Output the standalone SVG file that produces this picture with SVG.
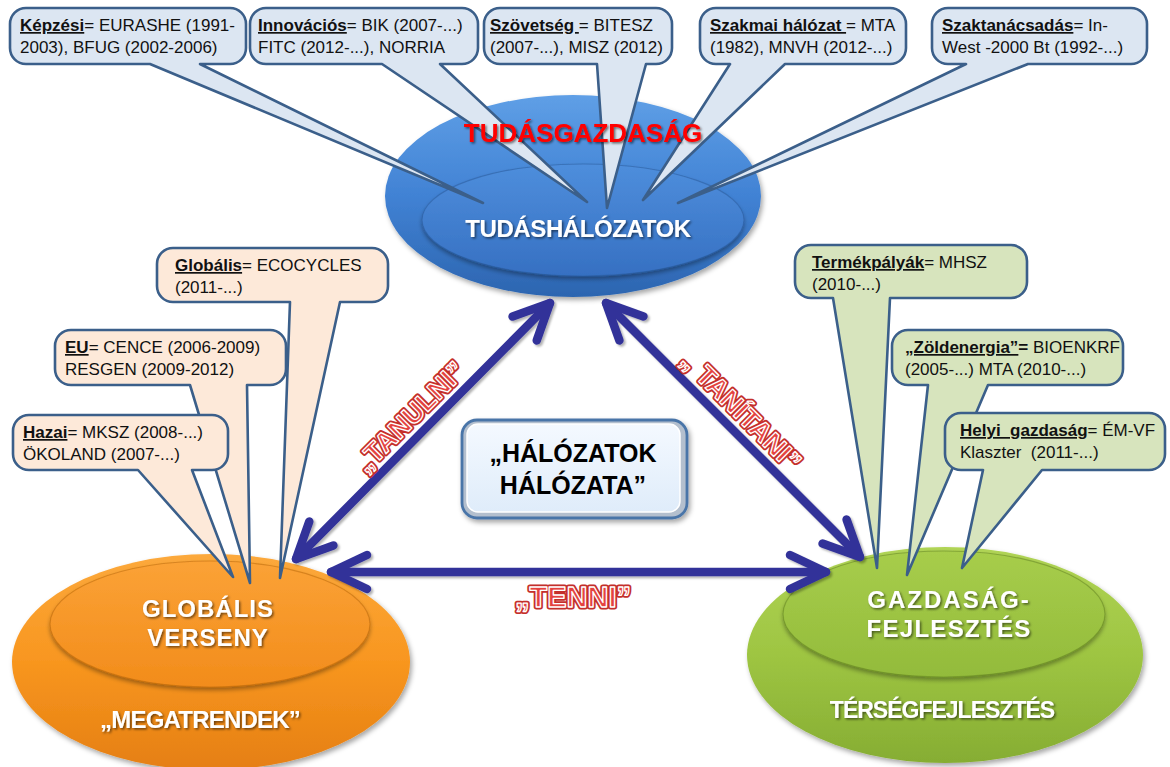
<svg xmlns="http://www.w3.org/2000/svg" width="1170" height="767" viewBox="0 0 1170 767">
  <style>
    .note { font-family: "Liberation Sans", Arial, sans-serif; font-size: 17px; fill: #111; white-space: pre; }
    .key { font-weight: bold; text-decoration: underline; }
    .b { font-weight: bold; }
    .callout-top { fill: #dce6f2; stroke: #3b5f8a; stroke-width: 2.6; stroke-linejoin: round; }
    .callout-left { fill: #fde9d9; stroke: #3b5f8a; stroke-width: 2.6; stroke-linejoin: round; }
    .callout-right { fill: #d7e4bd; stroke: #3b5f8a; stroke-width: 2.6; stroke-linejoin: round; }
    .head { font-family: "Liberation Sans", Arial, sans-serif; font-weight: bold; fill: #ffffff; text-anchor: middle; }
    .edge { fill: none; stroke: #333399; stroke-width: 8.5; stroke-linecap: round; }
    .lbl-back { font-family: "Liberation Sans", Arial, sans-serif; font-weight: bold; text-anchor: middle; dominant-baseline: central; fill: #c42f2b; stroke: #c42f2b; stroke-width: 5; stroke-linejoin: round; }
    .lbl-front { font-family: "Liberation Sans", Arial, sans-serif; font-weight: bold; text-anchor: middle; dominant-baseline: central; fill: #e4423f; stroke: #ffffff; stroke-width: 1.3; stroke-linejoin: round; }
    .center-text { font-family: "Liberation Sans", Arial, sans-serif; font-weight: bold; font-size: 25px; fill: #000; text-anchor: middle; }
  </style>
  <defs>
    <linearGradient id="gBlue" x1="0" y1="0" x2="0" y2="1">
      <stop offset="0" stop-color="#5f9fe6"/>
      <stop offset="0.5" stop-color="#4182d4"/>
      <stop offset="1" stop-color="#2c65b0"/>
    </linearGradient>
    <linearGradient id="gBlueIn" x1="0" y1="0" x2="0" y2="1">
      <stop offset="0" stop-color="#4e8edc"/>
      <stop offset="1" stop-color="#3670c2"/>
    </linearGradient>
    <linearGradient id="gOrange" x1="0" y1="0" x2="0" y2="1">
      <stop offset="0" stop-color="#fca93c"/>
      <stop offset="0.5" stop-color="#f8961f"/>
      <stop offset="1" stop-color="#e57f12"/>
    </linearGradient>
    <linearGradient id="gOrangeIn" x1="0" y1="0" x2="0" y2="1">
      <stop offset="0" stop-color="#fba236"/>
      <stop offset="1" stop-color="#f28c1b"/>
    </linearGradient>
    <linearGradient id="gGreen" x1="0" y1="0" x2="0" y2="1">
      <stop offset="0" stop-color="#b0d455"/>
      <stop offset="0.5" stop-color="#9ec542"/>
      <stop offset="1" stop-color="#86ad33"/>
    </linearGradient>
    <linearGradient id="gGreenIn" x1="0" y1="0" x2="0" y2="1">
      <stop offset="0" stop-color="#a7cd4b"/>
      <stop offset="1" stop-color="#93bb3b"/>
    </linearGradient>
    <linearGradient id="gBox" x1="0" y1="0" x2="0" y2="1">
      <stop offset="0" stop-color="#f4f9ff"/>
      <stop offset="1" stop-color="#dfecfa"/>
    </linearGradient>
    <filter id="shadow" x="-10%" y="-10%" width="120%" height="130%">
      <feDropShadow dx="2" dy="3" stdDeviation="2.5" flood-color="#000" flood-opacity="0.35"/>
    </filter>
    <filter id="innerShadow" x="-10%" y="-10%" width="120%" height="130%">
      <feDropShadow dx="0" dy="3" stdDeviation="2" flood-color="#000" flood-opacity="0.35"/>
    </filter>
    <filter id="textShadow" x="-10%" y="-20%" width="120%" height="150%">
      <feDropShadow dx="1.5" dy="1.5" stdDeviation="1" flood-color="#000" flood-opacity="0.55"/>
    </filter>
    <filter id="arrowShadow" x="-10%" y="-10%" width="120%" height="120%">
      <feDropShadow dx="2" dy="2" stdDeviation="1" flood-color="#000" flood-opacity="0.3"/>
    </filter>
    <marker id="chev" markerUnits="userSpaceOnUse" viewBox="-50 -30 60 60" markerWidth="60" markerHeight="60" refX="0" refY="0" orient="auto-start-reverse" overflow="visible">
      <path d="M-36,-17 L0,0 L-36,17" fill="none" stroke="#333399" stroke-width="8.5" stroke-linecap="round" stroke-linejoin="round"/>
    </marker>
  </defs>

  <rect width="1170" height="767" fill="#ffffff"/>

  <!-- knowledge economy node -->
  <g id="node-tudas">
    <ellipse cx="573" cy="196" rx="188" ry="101" fill="url(#gBlue)" filter="url(#shadow)"/>
    <ellipse cx="583" cy="220" rx="161" ry="56" fill="url(#gBlueIn)" stroke="#2a5a9a" stroke-opacity="0.5" stroke-width="1.2" filter="url(#innerShadow)"/>
  </g>

  <!-- global trends node -->
  <g id="node-globalis">
    <ellipse cx="211" cy="662" rx="199" ry="108" fill="url(#gOrange)" filter="url(#shadow)"/>
    <ellipse cx="210" cy="624" rx="160" ry="63" fill="url(#gOrangeIn)" stroke="#b8650a" stroke-opacity="0.5" stroke-width="1.2" filter="url(#innerShadow)"/>
    <text class="head" x="208" y="617" font-size="24" letter-spacing="1" filter="url(#textShadow)">GLOBÁLIS</text>
    <text class="head" x="208" y="646" font-size="24" letter-spacing="1" filter="url(#textShadow)">VERSENY</text>
    <text class="head" x="200" y="728" font-size="24" letter-spacing="-0.8" filter="url(#textShadow)">„MEGATRENDEK”</text>
  </g>

  <!-- regional development node -->
  <g id="node-gazdasag">
    <ellipse cx="945" cy="655" rx="198" ry="108" fill="url(#gGreen)" filter="url(#shadow)"/>
    <ellipse cx="944" cy="614" rx="161" ry="63" fill="url(#gGreenIn)" stroke="#5f7f20" stroke-opacity="0.5" stroke-width="1.2" filter="url(#innerShadow)"/>
    <text class="head" x="949" y="608" font-size="24" letter-spacing="2" filter="url(#textShadow)">GAZDASÁG-</text>
    <text class="head" x="949" y="637" font-size="24" letter-spacing="1.3" filter="url(#textShadow)">FEJLESZTÉS</text>
    <text class="head" x="942" y="718" font-size="23" letter-spacing="-1" filter="url(#textShadow)">TÉRSÉGFEJLESZTÉS</text>
  </g>

  <!-- callouts above the knowledge node -->
  <g id="callout-kepzesi">
    <path class="callout-top" d="M26,8 H230 A16,16 0 0 1 246,24 V48 A16,16 0 0 1 230,64 H200 L483,203 L150,64 H26 A16,16 0 0 1 10,48 V24 A16,16 0 0 1 26,8 Z"/>
    <text class="note" x="20" y="31"><tspan class="key">Képzési</tspan>= EURASHE (1991-</text>
    <text class="note" x="20" y="53">2003), BFUG (2002-2006)</text>
  </g>
  <g id="callout-innovacios">
    <path class="callout-top" d="M266,8 H462 A16,16 0 0 1 478,24 V48 A16,16 0 0 1 462,64 H440 L587,202 L382,64 H266 A16,16 0 0 1 250,48 V24 A16,16 0 0 1 266,8 Z"/>
    <text class="note" x="258" y="31"><tspan class="key">Innovációs</tspan>= BIK (2007-...)</text>
    <text class="note" x="258" y="53">FITC (2012-...), NORRIA</text>
  </g>
  <g id="callout-szovetseg">
    <path class="callout-top" d="M500,8 H656 A16,16 0 0 1 672,24 V48 A16,16 0 0 1 656,64 H646 L607,208 L597,64 H500 A16,16 0 0 1 484,48 V24 A16,16 0 0 1 500,8 Z"/>
    <text class="note" x="490" y="31"><tspan class="key">Szövetség </tspan>= BITESZ</text>
    <text class="note" x="490" y="53">(2007-...), MISZ (2012)</text>
  </g>
  <g id="callout-szakmai">
    <path class="callout-top" d="M716,8 H890 A16,16 0 0 1 906,24 V48 A16,16 0 0 1 890,64 H785 L643,200 L730,64 H716 A16,16 0 0 1 700,48 V24 A16,16 0 0 1 716,8 Z"/>
    <text class="note" x="710" y="31"><tspan class="key">Szakmai hálózat </tspan>= MTA</text>
    <text class="note" x="710" y="53">(1982), MNVH (2012-...)</text>
  </g>
  <g id="callout-szaktanacsadas">
    <path class="callout-top" d="M948,8 H1131 A16,16 0 0 1 1147,24 V48 A16,16 0 0 1 1131,64 H1028 L678,203 L966,64 H948 A16,16 0 0 1 932,48 V24 A16,16 0 0 1 948,8 Z"/>
    <text class="note" x="942" y="31"><tspan class="key">Szaktanácsadás</tspan>= In-</text>
    <text class="note" x="942" y="53">West -2000 Bt (1992-...)</text>
  </g>

  <text x="583" y="142" font-family="Liberation Sans, Arial, sans-serif" font-weight="bold" font-size="26" fill="#ff0000" text-anchor="middle" filter="url(#textShadow)">TUDÁSGAZDASÁG</text>
  <text class="head" x="578" y="237" font-size="24" letter-spacing="-0.4" filter="url(#textShadow)">TUDÁSHÁLÓZATOK</text>

  <!-- callouts above the global trends node -->
  <g id="callout-globalis">
    <path class="callout-left" d="M173,248 H372 A16,16 0 0 1 388,264 V286 A16,16 0 0 1 372,302 H340 L280,578 L290,302 H173 A16,16 0 0 1 157,286 V264 A16,16 0 0 1 173,248 Z"/>
    <text class="note" x="175" y="271"><tspan class="key">Globális</tspan>= ECOCYCLES</text>
    <text class="note" x="175" y="293">(2011-...)</text>
  </g>
  <g id="callout-eu">
    <path class="callout-left" d="M71,330 H270 A16,16 0 0 1 286,346 V369 A16,16 0 0 1 270,385 H247 L250,583 L190,385 H71 A16,16 0 0 1 55,369 V346 A16,16 0 0 1 71,330 Z"/>
    <text class="note" x="65" y="353"><tspan class="key">EU</tspan>= CENCE (2006-2009)</text>
    <text class="note" x="65" y="375">RESGEN (2009-2012)</text>
  </g>
  <g id="callout-hazai">
    <path class="callout-left" d="M29,415 H212 A16,16 0 0 1 228,431 V454 A16,16 0 0 1 212,470 H192 L233,577 L138,470 H29 A16,16 0 0 1 13,454 V431 A16,16 0 0 1 29,415 Z"/>
    <text class="note" x="23" y="438"><tspan class="key">Hazai</tspan>= MKSZ (2008-...)</text>
    <text class="note" x="23" y="460">ÖKOLAND (2007-...)</text>
  </g>

  <!-- callouts above the regional development node -->
  <g id="callout-termekpalyak">
    <path class="callout-right" d="M811,245 H1011 A16,16 0 0 1 1027,261 V282 A16,16 0 0 1 1011,298 H890 L877,568 L833,298 H811 A16,16 0 0 1 795,282 V261 A16,16 0 0 1 811,245 Z"/>
    <text class="note" x="812" y="268"><tspan class="key">Termékpályák</tspan>= MHSZ</text>
    <text class="note" x="812" y="290">(2010-...)</text>
  </g>
  <g id="callout-zoldenergia">
    <path class="callout-right" d="M908,330 H1107 A16,16 0 0 1 1123,346 V369 A16,16 0 0 1 1107,385 H988 L907,575 L928,385 H908 A16,16 0 0 1 892,369 V346 A16,16 0 0 1 908,330 Z"/>
    <text class="note" x="905" y="353"><tspan class="key">„Zöldenergia”</tspan><tspan class="b">=</tspan> BIOENKRF</text>
    <text class="note" x="905" y="375">(2005-...) MTA (2010-...)</text>
  </g>
  <g id="callout-helyi">
    <path class="callout-right" d="M961,413 H1149 A16,16 0 0 1 1165,429 V454 A16,16 0 0 1 1149,470 H1042 L962,568 L983,470 H961 A16,16 0 0 1 945,454 V429 A16,16 0 0 1 961,413 Z"/>
    <text class="note" x="960" y="436"><tspan class="key">Helyi  gazdaság</tspan>= ÉM-VF</text>
    <text class="note" x="960" y="458">Klaszter  (2011-...)</text>
  </g>

  <!-- central box -->
  <g id="node-halozatok">
    <rect x="462" y="420" width="225" height="98" rx="15" fill="#b3bfce" stroke="#4a74a8" stroke-width="2.8" filter="url(#shadow)"/>
    <rect x="467" y="424" width="213" height="88" rx="11" fill="url(#gBox)" stroke="#ffffff" stroke-width="1.5"/>
    <text class="center-text" x="573" y="462">„HÁLÓZATOK</text>
    <text class="center-text" x="573" y="494">HÁLÓZATA”</text>
  </g>

  <!-- connectors -->
  <g id="connectors" filter="url(#arrowShadow)">
    <line class="edge" x1="550" y1="303" x2="296" y2="559" marker-start="url(#chev)" marker-end="url(#chev)"/>
    <line class="edge" x1="606" y1="303" x2="860" y2="557" marker-start="url(#chev)" marker-end="url(#chev)"/>
    <line class="edge" x1="331" y1="572" x2="826" y2="572" marker-start="url(#chev)" marker-end="url(#chev)"/>
  </g>

  <!-- connector labels -->
  <g id="edge-labels">
    <g transform="translate(410,417) rotate(-45)">
      <text class="lbl-back" x="0" y="0" font-size="27">„TANULNI”</text>
      <text class="lbl-front" x="0" y="0" font-size="27">„TANULNI”</text>
    </g>
    <g transform="translate(741,411) rotate(45)">
      <text class="lbl-back" x="0" y="0" font-size="27">„ TANÍTANI”</text>
      <text class="lbl-front" x="0" y="0" font-size="27">„ TANÍTANI”</text>
    </g>
    <g transform="translate(573,597)">
      <text class="lbl-back" x="0" y="0" font-size="29">„TENNI”</text>
      <text class="lbl-front" x="0" y="0" font-size="29">„TENNI”</text>
    </g>
  </g>
</svg>
